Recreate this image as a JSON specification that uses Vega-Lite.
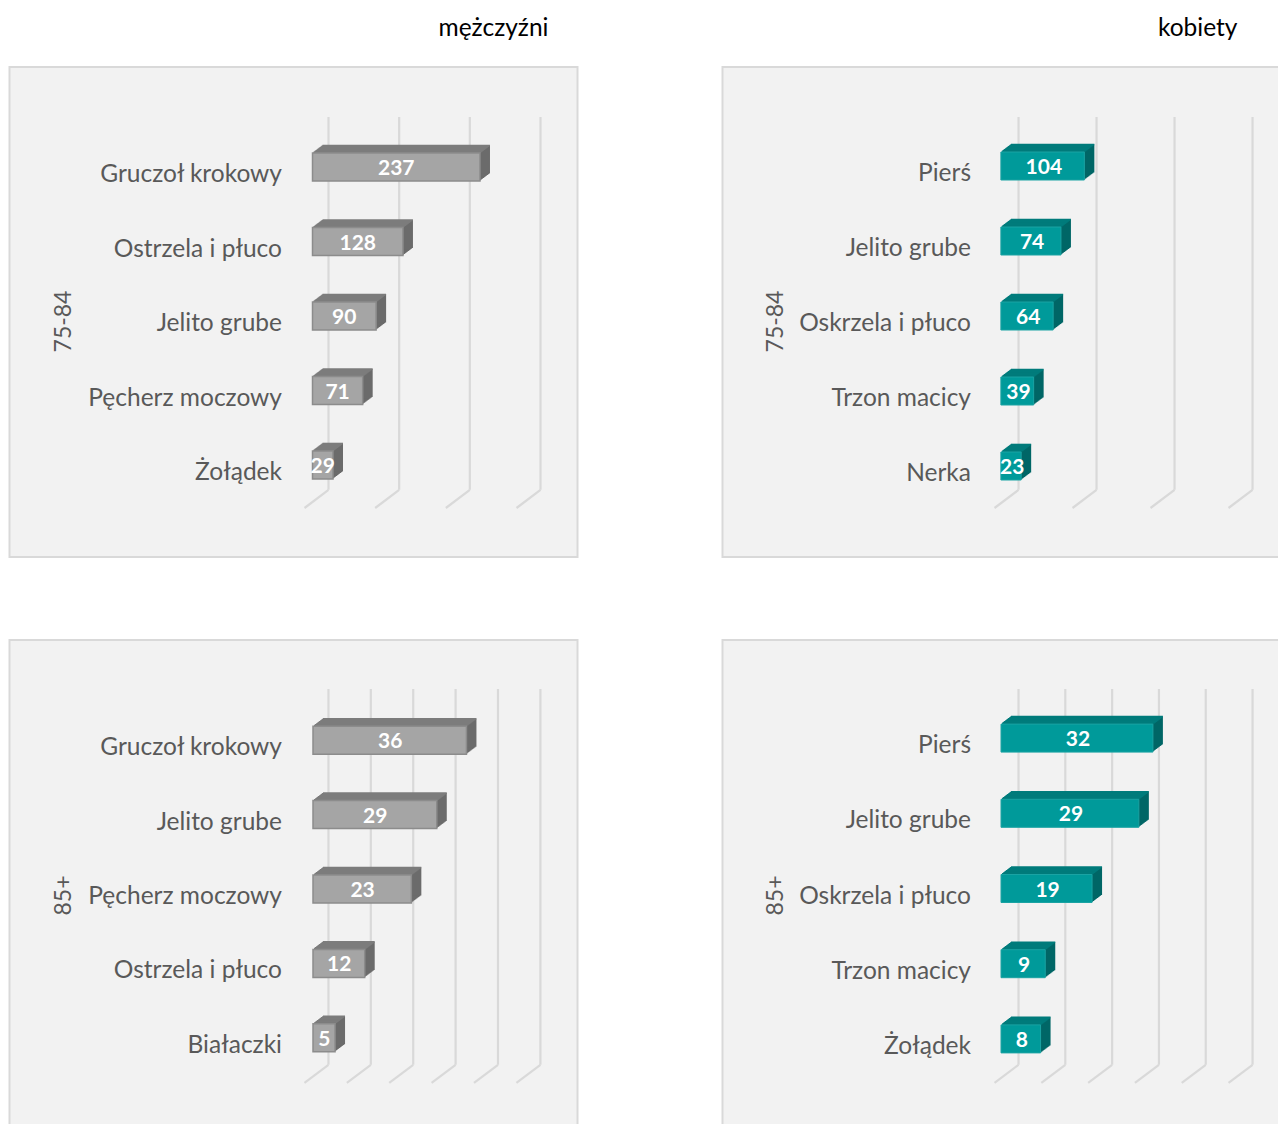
{"$schema":"https://vega.github.io/schema/vega-lite/v6.json","background":"white","padding":{"left":8.5,"top":14,"right":0,"bottom":0},"columns":2,"spacing":{"row":81,"column":143},
"config":{"view":{"fill":"#f2f2f2","stroke":"#d9d9d9","strokeWidth":2},"style":{"gf":{"stroke":"#8c8c8c","strokeWidth":1.5},"tf":{"stroke":"#1aa3a3","strokeWidth":1}},"text":{"font":"Lato","fontWeight":"bold","fontSize":21,"color":"#ffffff"},"axis":{"labelFont":"Lato","labelFontSize":24.5,"labelColor":"#595959","titleFont":"Lato","titleFontSize":23,"titleFontWeight":"normal","titleColor":"#595959","domain":false,"ticks":false,"grid":false,"labelPadding":0,"labelLimit":400,"labelOffset":8,"titleAngle":270,"titleAlign":"center","titleBaseline":"middle"},"title":{"font":"Lato","fontSize":24.5,"fontWeight":"normal","color":"#000000","anchor":"end","frame":"group","offset":26}},
"concat":[
{"width":568,"height":490,"title":{"text":"mężczyźni","dx":-29},"data":{"values":[{"name":"Gruczoł krokowy","value":237},{"name":"Ostrzela i płuco","value":128},{"name":"Jelito grube","value":90},{"name":"Pęcherz moczowy","value":71},{"name":"Żołądek","value":29}]},"resolve":{"scale":{"y":"independent"}},"layer":[
{"data":{"values":[{"tick":0},{"tick":100},{"tick":200},{"tick":300}]},"encoding":{"x":{"field":"tick","type":"quantitative","axis":null,"scale":{"domain":[-428.8,375]}},"x2":{"field":"tick"},"color":{"value":"#d9d9d9"},"size":{"value":2.2}},"layer":[
{"mark":{"type":"rule","xOffset":16,"x2Offset":16},"encoding":{"y":{"datum":0.898,"type":"quantitative","axis":null,"scale":{"domain":[0,1]}},"y2":{"datum":0.137}}},
{"mark":{"type":"rule","xOffset":16,"x2Offset":-8},"encoding":{"y":{"datum":0.137,"type":"quantitative","axis":null,"scale":{"domain":[0,1]}},"y2":{"datum":0.1}}}]},
{"encoding":{"y":{"field":"name","type":"nominal","sort":null,"title":"75-84","scale":{"range":[62.75,435.25],"paddingInner":0,"paddingOuter":0},"axis":{"offset":-272,"titleX":-218,"titleY":254}}},"layer":[
{"encoding":{"x":{"field":"value","type":"quantitative","axis":null,"scale":{"domain":[-428.8,375]}},"x2":{"datum":0},"size":{"value":28},"color":{"value":"#6b6b6b"}},"layer":[
{"mark":{"type":"bar","xOffset":1,"x2Offset":1,"yOffset":-0.75,"y2Offset":-0.75}},{"mark":{"type":"bar","xOffset":2,"x2Offset":2,"yOffset":-1.5,"y2Offset":-1.5}},{"mark":{"type":"bar","xOffset":3,"x2Offset":3,"yOffset":-2.25,"y2Offset":-2.25}},{"mark":{"type":"bar","xOffset":4,"x2Offset":4,"yOffset":-3,"y2Offset":-3}},{"mark":{"type":"bar","xOffset":5,"x2Offset":5,"yOffset":-3.75,"y2Offset":-3.75}},{"mark":{"type":"bar","xOffset":6,"x2Offset":6,"yOffset":-4.5,"y2Offset":-4.5}},{"mark":{"type":"bar","xOffset":7,"x2Offset":7,"yOffset":-5.25,"y2Offset":-5.25}},{"mark":{"type":"bar","xOffset":8,"x2Offset":8,"yOffset":-6,"y2Offset":-6}},{"mark":{"type":"bar","xOffset":9,"x2Offset":9,"yOffset":-6.75,"y2Offset":-6.75}},{"mark":{"type":"bar","xOffset":10,"x2Offset":10,"yOffset":-7.5,"y2Offset":-7.5}}]},
{"encoding":{"x":{"field":"value","type":"quantitative","axis":null,"scale":{"domain":[-428.8,375]}},"x2":{"datum":0},"size":{"value":1.6},"color":{"value":"#7c7c7c"}},"layer":[
{"mark":{"type":"rule","xOffset":1,"x2Offset":1,"yOffset":-14.75}},{"mark":{"type":"rule","xOffset":2,"x2Offset":2,"yOffset":-15.5}},{"mark":{"type":"rule","xOffset":3,"x2Offset":3,"yOffset":-16.25}},{"mark":{"type":"rule","xOffset":4,"x2Offset":4,"yOffset":-17}},{"mark":{"type":"rule","xOffset":5,"x2Offset":5,"yOffset":-17.75}},{"mark":{"type":"rule","xOffset":6,"x2Offset":6,"yOffset":-18.5}},{"mark":{"type":"rule","xOffset":7,"x2Offset":7,"yOffset":-19.25}},{"mark":{"type":"rule","xOffset":8,"x2Offset":8,"yOffset":-20}},{"mark":{"type":"rule","xOffset":9,"x2Offset":9,"yOffset":-20.75}},{"mark":{"type":"rule","xOffset":10,"x2Offset":10,"yOffset":-21.5}}]},
{"mark":{"type":"bar","style":"gf"},"encoding":{"x":{"field":"value","type":"quantitative","axis":null,"scale":{"domain":[-428.8,375]}},"x2":{"datum":0},"size":{"value":28},"color":{"value":"#a5a5a5"}}},
{"mark":{"type":"text","yOffset":2},"encoding":{"x":{"field":"value","type":"quantitative","axis":null,"stack":"zero","bandPosition":0.5,"scale":{"domain":[-428.8,375]}},"text":{"field":"value","type":"quantitative"}}}]}]},
{"width":568,"height":490,"title":{"text":"kobiety","dx":-53},"data":{"values":[{"name":"Pierś","value":104},{"name":"Jelito grube","value":74},{"name":"Oskrzela i płuco","value":64},{"name":"Trzon macicy","value":39},{"name":"Nerka","value":23}]},"resolve":{"scale":{"y":"independent"}},"layer":[
{"data":{"values":[{"tick":0},{"tick":100},{"tick":200},{"tick":300}]},"encoding":{"x":{"field":"tick","type":"quantitative","axis":null,"scale":{"domain":[-359.9,368.3]}},"x2":{"field":"tick"},"color":{"value":"#d9d9d9"},"size":{"value":2.2}},"layer":[
{"mark":{"type":"rule","xOffset":15.3,"x2Offset":15.3},"encoding":{"y":{"datum":0.898,"type":"quantitative","axis":null,"scale":{"domain":[0,1]}},"y2":{"datum":0.137}}},
{"mark":{"type":"rule","xOffset":15.3,"x2Offset":-8.7},"encoding":{"y":{"datum":0.137,"type":"quantitative","axis":null,"scale":{"domain":[0,1]}},"y2":{"datum":0.1}}}]},
{"encoding":{"y":{"field":"name","type":"nominal","sort":null,"title":"75-84","scale":{"range":[61.5,436.5],"paddingInner":0,"paddingOuter":0},"axis":{"offset":-248,"titleX":-195,"titleY":254}}},"layer":[
{"encoding":{"x":{"field":"value","type":"quantitative","axis":null,"scale":{"domain":[-359.9,368.3]}},"x2":{"datum":-3},"size":{"value":28},"color":{"value":"#006666"}},"layer":[
{"mark":{"type":"bar","xOffset":1,"x2Offset":1,"yOffset":-0.75,"y2Offset":-0.75}},{"mark":{"type":"bar","xOffset":2,"x2Offset":2,"yOffset":-1.5,"y2Offset":-1.5}},{"mark":{"type":"bar","xOffset":3,"x2Offset":3,"yOffset":-2.25,"y2Offset":-2.25}},{"mark":{"type":"bar","xOffset":4,"x2Offset":4,"yOffset":-3,"y2Offset":-3}},{"mark":{"type":"bar","xOffset":5,"x2Offset":5,"yOffset":-3.75,"y2Offset":-3.75}},{"mark":{"type":"bar","xOffset":6,"x2Offset":6,"yOffset":-4.5,"y2Offset":-4.5}},{"mark":{"type":"bar","xOffset":7,"x2Offset":7,"yOffset":-5.25,"y2Offset":-5.25}},{"mark":{"type":"bar","xOffset":8,"x2Offset":8,"yOffset":-6,"y2Offset":-6}},{"mark":{"type":"bar","xOffset":9,"x2Offset":9,"yOffset":-6.75,"y2Offset":-6.75}},{"mark":{"type":"bar","xOffset":10,"x2Offset":10,"yOffset":-7.5,"y2Offset":-7.5}}]},
{"encoding":{"x":{"field":"value","type":"quantitative","axis":null,"scale":{"domain":[-359.9,368.3]}},"x2":{"datum":-3},"size":{"value":1.6},"color":{"value":"#007b7b"}},"layer":[
{"mark":{"type":"rule","xOffset":1,"x2Offset":1,"yOffset":-14.75}},{"mark":{"type":"rule","xOffset":2,"x2Offset":2,"yOffset":-15.5}},{"mark":{"type":"rule","xOffset":3,"x2Offset":3,"yOffset":-16.25}},{"mark":{"type":"rule","xOffset":4,"x2Offset":4,"yOffset":-17}},{"mark":{"type":"rule","xOffset":5,"x2Offset":5,"yOffset":-17.75}},{"mark":{"type":"rule","xOffset":6,"x2Offset":6,"yOffset":-18.5}},{"mark":{"type":"rule","xOffset":7,"x2Offset":7,"yOffset":-19.25}},{"mark":{"type":"rule","xOffset":8,"x2Offset":8,"yOffset":-20}},{"mark":{"type":"rule","xOffset":9,"x2Offset":9,"yOffset":-20.75}},{"mark":{"type":"rule","xOffset":10,"x2Offset":10,"yOffset":-21.5}}]},
{"mark":{"type":"bar","style":"tf"},"encoding":{"x":{"field":"value","type":"quantitative","axis":null,"scale":{"domain":[-359.9,368.3]}},"x2":{"datum":-3},"size":{"value":28},"color":{"value":"#009a9a"}}},
{"mark":{"type":"text","yOffset":2},"encoding":{"x":{"field":"value","type":"quantitative","axis":null,"stack":"zero","bandPosition":0.5,"scale":{"domain":[-359.9,368.3]}},"text":{"field":"value","type":"quantitative"}}}]}]},
{"width":568,"height":490,"data":{"values":[{"name":"Gruczoł krokowy","value":36},{"name":"Jelito grube","value":29},{"name":"Pęcherz moczowy","value":23},{"name":"Ostrzela i płuco","value":12},{"name":"Białaczki","value":5}]},"resolve":{"scale":{"y":"independent"}},"layer":[
{"data":{"values":[{"tick":0},{"tick":10},{"tick":20},{"tick":30},{"tick":40},{"tick":50}]},"encoding":{"x":{"field":"tick","type":"quantitative","axis":null,"scale":{"domain":[-71.8,62.2]}},"x2":{"field":"tick"},"color":{"value":"#d9d9d9"},"size":{"value":2.2}},"layer":[
{"mark":{"type":"rule","xOffset":14.6,"x2Offset":14.6},"encoding":{"y":{"datum":0.9,"type":"quantitative","axis":null,"scale":{"domain":[0,1]}},"y2":{"datum":0.133}}},
{"mark":{"type":"rule","xOffset":14.6,"x2Offset":-9.4},"encoding":{"y":{"datum":0.133,"type":"quantitative","axis":null,"scale":{"domain":[0,1]}},"y2":{"datum":0.096}}}]},
{"encoding":{"y":{"field":"name","type":"nominal","sort":null,"title":"85+","scale":{"range":[63,435],"paddingInner":0,"paddingOuter":0},"axis":{"offset":-272,"titleX":-218,"titleY":255}}},"layer":[
{"encoding":{"x":{"field":"value","type":"quantitative","axis":null,"scale":{"domain":[-71.8,62.2]}},"x2":{"datum":-0.2},"size":{"value":28},"color":{"value":"#6b6b6b"}},"layer":[
{"mark":{"type":"bar","xOffset":1,"x2Offset":1,"yOffset":-0.75,"y2Offset":-0.75}},{"mark":{"type":"bar","xOffset":2,"x2Offset":2,"yOffset":-1.5,"y2Offset":-1.5}},{"mark":{"type":"bar","xOffset":3,"x2Offset":3,"yOffset":-2.25,"y2Offset":-2.25}},{"mark":{"type":"bar","xOffset":4,"x2Offset":4,"yOffset":-3,"y2Offset":-3}},{"mark":{"type":"bar","xOffset":5,"x2Offset":5,"yOffset":-3.75,"y2Offset":-3.75}},{"mark":{"type":"bar","xOffset":6,"x2Offset":6,"yOffset":-4.5,"y2Offset":-4.5}},{"mark":{"type":"bar","xOffset":7,"x2Offset":7,"yOffset":-5.25,"y2Offset":-5.25}},{"mark":{"type":"bar","xOffset":8,"x2Offset":8,"yOffset":-6,"y2Offset":-6}},{"mark":{"type":"bar","xOffset":9,"x2Offset":9,"yOffset":-6.75,"y2Offset":-6.75}},{"mark":{"type":"bar","xOffset":10,"x2Offset":10,"yOffset":-7.5,"y2Offset":-7.5}}]},
{"encoding":{"x":{"field":"value","type":"quantitative","axis":null,"scale":{"domain":[-71.8,62.2]}},"x2":{"datum":-0.2},"size":{"value":1.6},"color":{"value":"#7c7c7c"}},"layer":[
{"mark":{"type":"rule","xOffset":1,"x2Offset":1,"yOffset":-14.75}},{"mark":{"type":"rule","xOffset":2,"x2Offset":2,"yOffset":-15.5}},{"mark":{"type":"rule","xOffset":3,"x2Offset":3,"yOffset":-16.25}},{"mark":{"type":"rule","xOffset":4,"x2Offset":4,"yOffset":-17}},{"mark":{"type":"rule","xOffset":5,"x2Offset":5,"yOffset":-17.75}},{"mark":{"type":"rule","xOffset":6,"x2Offset":6,"yOffset":-18.5}},{"mark":{"type":"rule","xOffset":7,"x2Offset":7,"yOffset":-19.25}},{"mark":{"type":"rule","xOffset":8,"x2Offset":8,"yOffset":-20}},{"mark":{"type":"rule","xOffset":9,"x2Offset":9,"yOffset":-20.75}},{"mark":{"type":"rule","xOffset":10,"x2Offset":10,"yOffset":-21.5}}]},
{"mark":{"type":"bar","style":"gf"},"encoding":{"x":{"field":"value","type":"quantitative","axis":null,"scale":{"domain":[-71.8,62.2]}},"x2":{"datum":-0.2},"size":{"value":28},"color":{"value":"#a5a5a5"}}},
{"mark":{"type":"text","yOffset":2},"encoding":{"x":{"field":"value","type":"quantitative","axis":null,"stack":"zero","bandPosition":0.5,"scale":{"domain":[-71.8,62.2]}},"text":{"field":"value","type":"quantitative"}}}]}]},
{"width":568,"height":490,"data":{"values":[{"name":"Pierś","value":32},{"name":"Jelito grube","value":29},{"name":"Oskrzela i płuco","value":19},{"name":"Trzon macicy","value":9},{"name":"Żołądek","value":8}]},"resolve":{"scale":{"y":"independent"}},"layer":[
{"data":{"values":[{"tick":0},{"tick":10},{"tick":20},{"tick":30},{"tick":40},{"tick":50}]},"encoding":{"x":{"field":"tick","type":"quantitative","axis":null,"scale":{"domain":[-59.96,61.4]}},"x2":{"field":"tick"},"color":{"value":"#d9d9d9"},"size":{"value":2.2}},"layer":[
{"mark":{"type":"rule","xOffset":15.4,"x2Offset":15.4},"encoding":{"y":{"datum":0.9,"type":"quantitative","axis":null,"scale":{"domain":[0,1]}},"y2":{"datum":0.133}}},
{"mark":{"type":"rule","xOffset":15.4,"x2Offset":-8.6},"encoding":{"y":{"datum":0.133,"type":"quantitative","axis":null,"scale":{"domain":[0,1]}},"y2":{"datum":0.096}}}]},
{"encoding":{"y":{"field":"name","type":"nominal","sort":null,"title":"85+","scale":{"range":[60.5,436.5],"paddingInner":0,"paddingOuter":0},"axis":{"offset":-248,"titleX":-195,"titleY":255}}},"layer":[
{"encoding":{"x":{"field":"value","type":"quantitative","axis":null,"scale":{"domain":[-59.96,61.4]}},"x2":{"datum":-0.45},"size":{"value":28},"color":{"value":"#006666"}},"layer":[
{"mark":{"type":"bar","xOffset":1,"x2Offset":1,"yOffset":-0.75,"y2Offset":-0.75}},{"mark":{"type":"bar","xOffset":2,"x2Offset":2,"yOffset":-1.5,"y2Offset":-1.5}},{"mark":{"type":"bar","xOffset":3,"x2Offset":3,"yOffset":-2.25,"y2Offset":-2.25}},{"mark":{"type":"bar","xOffset":4,"x2Offset":4,"yOffset":-3,"y2Offset":-3}},{"mark":{"type":"bar","xOffset":5,"x2Offset":5,"yOffset":-3.75,"y2Offset":-3.75}},{"mark":{"type":"bar","xOffset":6,"x2Offset":6,"yOffset":-4.5,"y2Offset":-4.5}},{"mark":{"type":"bar","xOffset":7,"x2Offset":7,"yOffset":-5.25,"y2Offset":-5.25}},{"mark":{"type":"bar","xOffset":8,"x2Offset":8,"yOffset":-6,"y2Offset":-6}},{"mark":{"type":"bar","xOffset":9,"x2Offset":9,"yOffset":-6.75,"y2Offset":-6.75}},{"mark":{"type":"bar","xOffset":10,"x2Offset":10,"yOffset":-7.5,"y2Offset":-7.5}}]},
{"encoding":{"x":{"field":"value","type":"quantitative","axis":null,"scale":{"domain":[-59.96,61.4]}},"x2":{"datum":-0.45},"size":{"value":1.6},"color":{"value":"#007b7b"}},"layer":[
{"mark":{"type":"rule","xOffset":1,"x2Offset":1,"yOffset":-14.75}},{"mark":{"type":"rule","xOffset":2,"x2Offset":2,"yOffset":-15.5}},{"mark":{"type":"rule","xOffset":3,"x2Offset":3,"yOffset":-16.25}},{"mark":{"type":"rule","xOffset":4,"x2Offset":4,"yOffset":-17}},{"mark":{"type":"rule","xOffset":5,"x2Offset":5,"yOffset":-17.75}},{"mark":{"type":"rule","xOffset":6,"x2Offset":6,"yOffset":-18.5}},{"mark":{"type":"rule","xOffset":7,"x2Offset":7,"yOffset":-19.25}},{"mark":{"type":"rule","xOffset":8,"x2Offset":8,"yOffset":-20}},{"mark":{"type":"rule","xOffset":9,"x2Offset":9,"yOffset":-20.75}},{"mark":{"type":"rule","xOffset":10,"x2Offset":10,"yOffset":-21.5}}]},
{"mark":{"type":"bar","style":"tf"},"encoding":{"x":{"field":"value","type":"quantitative","axis":null,"scale":{"domain":[-59.96,61.4]}},"x2":{"datum":-0.45},"size":{"value":28},"color":{"value":"#009a9a"}}},
{"mark":{"type":"text","yOffset":2},"encoding":{"x":{"field":"value","type":"quantitative","axis":null,"stack":"zero","bandPosition":0.5,"scale":{"domain":[-59.96,61.4]}},"text":{"field":"value","type":"quantitative"}}}]}]}
]}
